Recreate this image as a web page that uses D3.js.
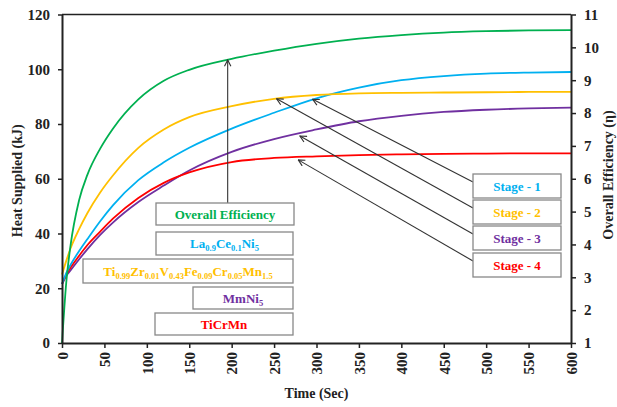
<!DOCTYPE html>
<html>
<head>
<meta charset="utf-8">
<script src="https://cdn.jsdelivr.net/npm/d3@7"></script>
<style>
  html, body { margin: 0; padding: 0; background: #fff; }
  svg { display: block; }
</style>
</head>
<body>
<svg id="chart" width="617" height="407" font-family="Liberation Serif, Times New Roman, serif" font-weight="bold"></svg>
<script>
// ---------- DATA ----------
const time = [0, 5, 10, 20, 30, 45, 60, 90, 120, 150, 200, 250, 300, 350, 400, 450, 500, 550, 600];
// Heat supplied (kJ), left axis
const stage1 = [21.5, 25.5, 28.5, 33.5, 38, 44.5, 50.3, 59.5, 66, 71.3, 78.3, 84.1, 89.4, 93.3, 96, 97.5, 98.4, 98.8, 99];
const stage2 = [25, 30, 34.5, 41.5, 47.5, 55, 61.2, 71.3, 78, 82.5, 86.5, 89.2, 90.6, 91.2, 91.4, 91.5, 91.6, 91.7, 91.7];
const stage3 = [21.5, 24.5, 26.5, 30.5, 34.3, 39.5, 44, 51.5, 57.5, 63, 69.8, 74.5, 78, 81, 83, 84.4, 85.2, 85.7, 86];
const stage4 = [21.5, 25, 27.5, 31.8, 35.8, 40.7, 45.4, 53, 58.5, 62.3, 66.1, 67.6, 68.2, 68.6, 68.9, 69.1, 69.2, 69.3, 69.3];
// Overall efficiency (right axis)
const overall = [1.0, 2.833, 3.958, 5.333, 6.125, 6.917, 7.525, 8.417, 8.983, 9.317, 9.65, 9.9, 10.108, 10.267, 10.375, 10.45, 10.492, 10.517, 10.525];

const xTicks = [0, 50, 100, 150, 200, 250, 300, 350, 400, 450, 500, 550, 600];
const yLeftTicks = [0, 20, 40, 60, 80, 100, 120];
const yRightTicks = [1, 2, 3, 4, 5, 6, 7, 8, 9, 10, 11];

const stageLabels = ["Stage - 1", "Stage - 2", "Stage - 3", "Stage - 4"];
// arrow tips in data units [time, heat]
const stageTips = [[295.5, 89], [253, 89.2], [280.5, 75.6], [278.5, 66.9]];
const overallTip = [195.3, 103.4];

// ---------- LAYOUT ----------
const FONT = "Liberation Serif, Times New Roman, serif";
const colors = { green: "#00b050", cyan: "#00b0f0", yellow: "#ffc000", purple: "#7030a0", red: "#ff0000" };
const stageColors = [colors.cyan, colors.yellow, colors.purple, colors.red];
const L = 62, R = 571, T = 14.5, B = 343;

const svg = d3.select("#chart");
const x = d3.scaleLinear().domain([0, 600]).range([L, R]);
const yL = d3.scaleLinear().domain([0, 120]).range([B, T]);
const yR = d3.scaleLinear().domain([1, 11]).range([B, T]);

function txt(sel) { return sel.attr("font-family", FONT).attr("font-weight", "bold"); }

// top border
svg.append("line").attr("x1", L).attr("x2", R).attr("y1", T).attr("y2", T)
  .attr("stroke", "#222").attr("stroke-width", 1.5);

// curves
const lineL = d3.line().x((d, i) => x(time[i])).y(d => yL(d)).curve(d3.curveMonotoneX);
const lineR = d3.line().x((d, i) => x(time[i])).y(d => yR(d)).curve(d3.curveMonotoneX);
const seriesL = [[stage3, colors.purple], [stage4, colors.red], [stage1, colors.cyan], [stage2, colors.yellow]];
seriesL.forEach(([s, c]) => {
  svg.append("path").attr("d", lineL(s)).attr("fill", "none").attr("stroke", c).attr("stroke-width", 1.8);
});
svg.append("path").attr("d", lineR(overall)).attr("fill", "none").attr("stroke", colors.green).attr("stroke-width", 1.8);

// axes
function styleAxis(g) {
  g.attr("font-family", FONT).attr("font-size", 15).attr("font-weight", "bold");
  g.selectAll(".domain").attr("stroke", "#222").attr("stroke-width", 2);
  g.selectAll(".tick line").attr("stroke", "#222").attr("stroke-width", 1.5);
  g.selectAll(".tick text").attr("fill", "#222");
  txt(g.selectAll(".tick text"));
}
const gx = svg.append("g").attr("transform", `translate(0,${B})`)
  .call(d3.axisBottom(x).tickValues(xTicks).tickSize(5).tickSizeOuter(0));
styleAxis(gx);
gx.selectAll(".tick text").attr("transform", "rotate(-90)")
  .attr("text-anchor", "end").attr("x", -9).attr("y", 0).attr("dy", "0.35em");

const gyl = svg.append("g").attr("transform", `translate(${L},0)`)
  .call(d3.axisLeft(yL).tickValues(yLeftTicks).tickSize(4).tickSizeOuter(0).tickPadding(8));
styleAxis(gyl);

const gyr = svg.append("g").attr("transform", `translate(${R},0)`)
  .call(d3.axisRight(yR).tickValues(yRightTicks).tickSize(5).tickSizeOuter(0).tickPadding(8));
styleAxis(gyr);

// axis titles
txt(svg.append("text")).attr("x", x(300)).attr("y", 398).attr("text-anchor", "middle")
  .attr("font-size", 14).attr("fill", "#222").text("Time (Sec)");
txt(svg.append("text")).attr("transform", `translate(22,${(T + B) / 2 + 2}) rotate(-90)`)
  .attr("text-anchor", "middle").attr("font-size", 14).attr("fill", "#222").text("Heat Supplied (kJ)");
txt(svg.append("text")).attr("transform", `translate(613,175) rotate(-90)`)
  .attr("text-anchor", "middle").attr("font-size", 14).attr("fill", "#222").text("Overall Efficiency (η)");

// arrow marker
const defs = svg.append("defs");
defs.append("marker").attr("id", "arr").attr("viewBox", "0 0 10 10")
  .attr("refX", 9).attr("refY", 5).attr("markerWidth", 8).attr("markerHeight", 8)
  .attr("markerUnits", "userSpaceOnUse").attr("orient", "auto")
  .append("path").attr("d", "M1,1 L9,5 L1,9").attr("fill", "none").attr("stroke", "#333").attr("stroke-width", 1.4);

// left boxes
const leftBoxes = [
  { x0: 156, x1: 294, y0: 203, y1: 225, color: colors.green, parts: [["Overall Efficiency", false]] },
  { x0: 156, x1: 293, y0: 232, y1: 255, color: colors.cyan, parts: [["La", false], ["0.9", true], ["Ce", false], ["0.1", true], ["Ni", false], ["5", true]] },
  { x0: 83, x1: 293, y0: 259, y1: 283, color: colors.yellow, parts: [["Ti", false], ["0.99", true], ["Zr", false], ["0.01", true], ["V", false], ["0.43", true], ["Fe", false], ["0.09", true], ["Cr", false], ["0.05", true], ["Mn", false], ["1.5", true]] },
  { x0: 193, x1: 293, y0: 287, y1: 309, color: colors.purple, parts: [["MmNi", false], ["5", true]] },
  { x0: 155, x1: 293, y0: 313, y1: 335, color: colors.red, parts: [["TiCrMn", false]] }
];

// vertical arrow for overall efficiency
svg.append("line").attr("x1", x(overallTip[0])).attr("x2", x(overallTip[0]))
  .attr("y1", leftBoxes[0].y0).attr("y2", yL(overallTip[1]))
  .attr("stroke", "#333").attr("stroke-width", 1.1).attr("marker-end", "url(#arr)");

leftBoxes.forEach(b => {
  svg.append("rect").attr("x", b.x0).attr("y", b.y0).attr("width", b.x1 - b.x0).attr("height", b.y1 - b.y0)
    .attr("fill", "#fff").attr("stroke", "#888").attr("stroke-width", 1.3);
  const t = txt(svg.append("text")).attr("x", (b.x0 + b.x1) / 2).attr("y", (b.y0 + b.y1) / 2 + 4.5)
    .attr("text-anchor", "middle").attr("fill", b.color).attr("font-size", 13);
  b.parts.forEach(([s, sub], i) => {
    const ts = t.append("tspan").text(s);
    if (sub) ts.attr("font-size", 8.5).attr("dy", 3);
    else if (i > 0 && b.parts[i - 1][1]) ts.attr("dy", -3);
  });
});

// stage boxes with arrows
const sbX0 = 473, sbX1 = 561, sbH = 24, sbTop = [174, 200, 226, 253];
stageLabels.forEach((lab, i) => {
  svg.append("line").attr("x1", sbX0).attr("y1", sbTop[i] + 8)
    .attr("x2", x(stageTips[i][0])).attr("y2", yL(stageTips[i][1]))
    .attr("stroke", "#333").attr("stroke-width", 1.1).attr("marker-end", "url(#arr)");
});
stageLabels.forEach((lab, i) => {
  svg.append("rect").attr("x", sbX0).attr("y", sbTop[i]).attr("width", sbX1 - sbX0).attr("height", sbH)
    .attr("fill", "#fff").attr("stroke", "#888").attr("stroke-width", 1.3);
  txt(svg.append("text")).attr("x", (sbX0 + sbX1) / 2).attr("y", sbTop[i] + sbH / 2 + 4.5)
    .attr("text-anchor", "middle").attr("fill", stageColors[i]).attr("font-size", 13).text(lab);
});
</script>
</body>
</html>
